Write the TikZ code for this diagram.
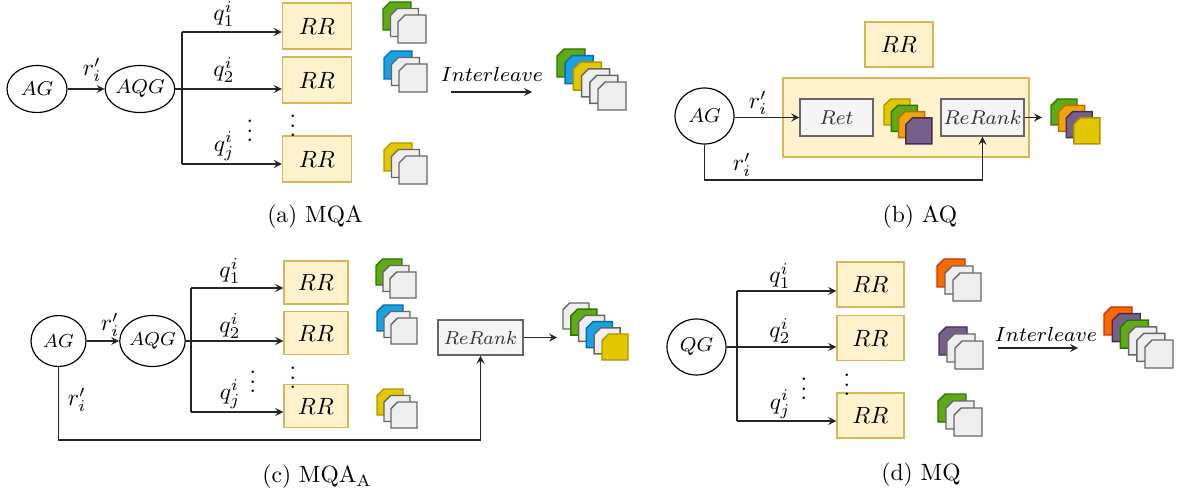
\RequirePackage{fix-cm}
\documentclass[tikz,border=0pt]{standalone}
\usetikzlibrary{shapes.geometric}

\newcommand{\px}{0.425pt}
\definecolor{rrfill}{HTML}{FFF2CC}
\definecolor{rrline}{HTML}{D6B656}
\definecolor{opfill}{HTML}{F5F5F5}
\definecolor{opline}{HTML}{666666}
\definecolor{optext}{HTML}{333333}
\definecolor{greenF}{HTML}{60A917}\definecolor{greenD}{HTML}{2D7600}
\definecolor{blueF}{HTML}{1BA1E2}\definecolor{blueD}{HTML}{006EAF}
\definecolor{yellowF}{HTML}{E3C800}\definecolor{yellowD}{HTML}{B09500}
\definecolor{orangeF}{HTML}{F0A30A}\definecolor{orangeD}{HTML}{BD7000}
\definecolor{purpleF}{HTML}{76608A}\definecolor{purpleD}{HTML}{432D57}
\definecolor{redorF}{HTML}{FA6800}\definecolor{redorD}{HTML}{C73500}
\definecolor{grayF}{HTML}{EEEEEE}\definecolor{grayD}{HTML}{666666}

% one document: top left corner #1,#2, size #3, colour #4
\newcommand{\docsq}[4]{%
  \draw[doc, fill=#4F, draw=#4D] (#1+#3/4,#2) -- (#1+#3,#2) -- (#1+#3,#2+#3)
    -- (#1,#2+#3) -- (#1,#2+#3/4) -- cycle;}

\tikzset{
  conn/.style={-stealth, line width=0.5pt, draw=black!85},
  wire/.style={line width=0.5pt, draw=black!85},
  gen/.style={ellipse, draw, line width=0.5pt, inner sep=0pt, font=\fontsize{8.5}{10}\selectfont},
  rr/.style={draw=rrline, fill=rrfill, inner sep=0pt, line width=0.6pt},
  op/.style={draw=opline, fill=opfill, text=optext, inner sep=0pt, line width=0.6pt, font=\fontsize{8.5}{10}\selectfont},
  doc/.style={line width=0.6pt, line join=miter},
  ilv/.style={font=\fontsize{8.7}{10}\selectfont, inner sep=1pt},
  lbl/.style={inner sep=1pt},
  dots/.style={inner sep=0pt},
}

\begin{document}
\begin{tikzpicture}[x=\px, y=-\px]

	\useasboundingbox (0,0) rectangle (1185,495);

	% (a) MQA
	\node[gen, minimum width=60*\px, minimum height=47*\px] (agA) at (37,89) {$AG$};
	\node[gen, minimum width=60*\px, minimum height=47*\px] (aqgA) at (140,89) {$AQG$};
	\draw[conn] (agA) -- (aqgA);
	\node[lbl] (riA) at (92,70) {$r'_i$};

	\foreach \n/\y in {1/26,2/80,3/159}
		\node[rr, minimum width=69*\px, minimum height=46*\px] (rrA\n) at (317,\y) {$RR$};
	\coordinate (brA1) at (182,32);
	\coordinate (brA3) at (182,164);
	\draw[wire] (brA1) -- (brA3);
	\draw[conn] (brA1) -- (rrA1.west |- brA1);
	\draw[conn] (aqgA) -- (rrA2.west |- aqgA);
	\draw[conn] (brA3) -- (rrA3.west |- brA3);

	\node[lbl] (qA1) at (224,14) {$q_1^i$};
	\node[lbl] (qA2) at (224,70) {$q_2^i$};
	\node[lbl] (qA3) at (224,146) {$q_j^i$};
	\node[dots] (dotA1) at (250,124) {$\vdots$};
	\node[dots] (dotA2) at (293,119) {$\vdots$};

	\foreach \s [count=\k from 0] in {green,gray,gray}
		\docsq{383+7.5*\k}{2+6.5*\k}{28}{\s};
	\foreach \s [count=\k from 0] in {blue,gray,gray}
		\docsq{384+7.5*\k}{51+6.5*\k}{28}{\s};
	\foreach \s [count=\k from 0] in {yellow,gray,gray}
		\docsq{384+7.5*\k}{143+6.5*\k}{28}{\s};
	\foreach \s [count=\k from 0] in {green,blue,yellow,gray,gray,gray}
		\docsq{557+8.2*\k}{49+6.6*\k}{28}{\s};

	\node[ilv] (ilA) at (492,74) {$Interleave$};
	\coordinate (ilA1) at (451,92);
	\coordinate (ilA2) at (532,92);
	\draw[conn] (ilA1) -- (ilA2);

	\node (capA) at (315,217) {(a) MQA};

	% (b) AQ
	\node[rr, minimum width=68*\px, minimum height=45*\px] (rrB) at (899,44.5) {$RR$};
	\node[rr, minimum width=246*\px, minimum height=79*\px] (rrboxB) at (906,117.5) {};
	\node[gen, minimum width=59*\px, minimum height=56*\px] (agB) at (704.5,116) {$AG$};
	\node[op, minimum width=73*\px, minimum height=37*\px] (retB) at (836.5,117.5) {$Ret$};
	\node[op, minimum width=83*\px, minimum height=37*\px] (rerankB) at (982.5,117.5) {$ReRank$};
	\draw[conn] (agB.east |- retB) -- (retB);
	\node[lbl] (riB1) at (758,103) {$r'_i$};

	\coordinate (fbB) at (709,180);
	\draw[conn] (agB.south) |- (fbB -| rerankB) -- (rerankB.south);
	\node[lbl] (riB2) at (742,165) {$r'_i$};

	\foreach \s [count=\k from 0] in {yellow,green,orange,purple}
		\docsq{884+7.3*\k}{99+6.3*\k}{26}{\s};
	\coordinate (outB) at (1042,117.5);
	\draw[conn] (rerankB) -- (outB);
	\foreach \s [count=\k from 0] in {green,orange,purple,yellow}
		\docsq{1051+7.6*\k}{99+6.3*\k}{26}{\s};

	\node (capB) at (920,217) {(b) AQ};

	% (c) MQA_A
	\node[gen, minimum width=55*\px, minimum height=51*\px, font=\fontsize{8}{10}\selectfont] (agC) at (58.5,341) {$AG$};
	\node[gen, minimum width=55*\px, minimum height=51*\px, font=\fontsize{8}{10}\selectfont] (aqgC) at (152.5,341) {$AQG$};
	\draw[conn] (agC) -- (aqgC);
	\node[lbl] (riC1) at (110,325) {$r'_i$};

	\foreach \n/\y in {1/282.5,2/333,3/406}
		\node[rr, minimum width=64*\px, minimum height=43*\px] (rrC\n) at (316,\y) {$RR$};
	\coordinate (brC1) at (191,288);
	\coordinate (brC3) at (191,412);
	\draw[wire] (brC1) -- (brC3);
	\draw[conn] (brC1) -- (rrC1.west |- brC1);
	\draw[conn] (aqgC) -- (rrC2.west |- aqgC);
	\draw[conn] (brC3) -- (rrC3.west |- brC3);

	\node[lbl] (qC1) at (230,271) {$q_1^i$};
	\node[lbl] (qC2) at (230,326) {$q_2^i$};
	\node[lbl] (qC3) at (230,394) {$q_j^i$};
	\node[dots] (dotC1) at (253,375) {$\vdots$};
	\node[dots] (dotC2) at (293,371) {$\vdots$};

	\foreach \s [count=\k from 0] in {green,gray,gray}
		\docsq{376+7*\k}{259+6.5*\k}{26}{\s};
	\foreach \s [count=\k from 0] in {blue,gray,gray}
		\docsq{377+7*\k}{305+6.5*\k}{26}{\s};
	\foreach \s [count=\k from 0] in {yellow,gray,gray}
		\docsq{377+7*\k}{389+6.5*\k}{26}{\s};

	\node[op, minimum width=85*\px, minimum height=35*\px, font=\fontsize{8}{10}\selectfont] (rerankC) at (480.5,337.5) {$ReRank$};
	\coordinate (outC) at (557,337.5);
	\draw[conn] (rerankC) -- (outC);
	\foreach \s [count=\k from 0] in {gray,green,gray,blue,gray,yellow}
		\docsq{563+7.8*\k}{303+6.2*\k}{26}{\s};

	\coordinate (fbC) at (58,440);
	\draw[conn] (agC.south) |- (fbC -| rerankC) -- (rerankC.south);
	\node[lbl] (riC2) at (77,400) {$r'_i$};

	\node (capC) at (317,477) {(c) MQA$_{\mathrm{A}}$};

	% (d) MQ
	\node[gen, minimum width=59*\px, minimum height=56*\px] (qgD) at (696.5,347) {$QG$};

	\foreach \n/\y in {1/284.5,2/338,3/415.5}
		\node[rr, minimum width=67*\px, minimum height=45*\px] (rrD\n) at (870.5,\y) {$RR$};
	\coordinate (brD1) at (737,291);
	\coordinate (brD3) at (737,421);
	\draw[wire] (brD1) -- (brD3);
	\draw[conn] (brD1) -- (rrD1.west |- brD1);
	\draw[conn] (qgD) -- (rrD2.west |- qgD);
	\draw[conn] (brD3) -- (rrD3.west |- brD3);

	\node[lbl] (qD1) at (780,276) {$q_1^i$};
	\node[lbl] (qD2) at (780,331) {$q_2^i$};
	\node[lbl] (qD3) at (780,404) {$q_j^i$};
	\node[dots] (dotD1) at (804,382) {$\vdots$};
	\node[dots] (dotD2) at (847,378) {$\vdots$};

	\foreach \s [count=\k from 0] in {redor,gray,gray}
		\docsq{937+8*\k}{259+7*\k}{28}{\s};
	\foreach \s [count=\k from 0] in {purple,gray,gray}
		\docsq{939+8*\k}{327+7*\k}{28}{\s};
	\foreach \s [count=\k from 0] in {green,gray,gray}
		\docsq{938+8*\k}{394+7*\k}{28}{\s};

	\node[ilv] (ilD) at (1046,334) {$Interleave$};
	\coordinate (ilD1) at (998,348);
	\coordinate (ilD2) at (1078,348);
	\draw[conn] (ilD1) -- (ilD2);
	\foreach \s [count=\k from 0] in {redor,purple,green,gray,gray,gray}
		\docsq{1104+8.2*\k}{307+6.6*\k}{28}{\s};

	\node (capD) at (921,475) {(d) MQ};

\end{tikzpicture}
\end{document}
